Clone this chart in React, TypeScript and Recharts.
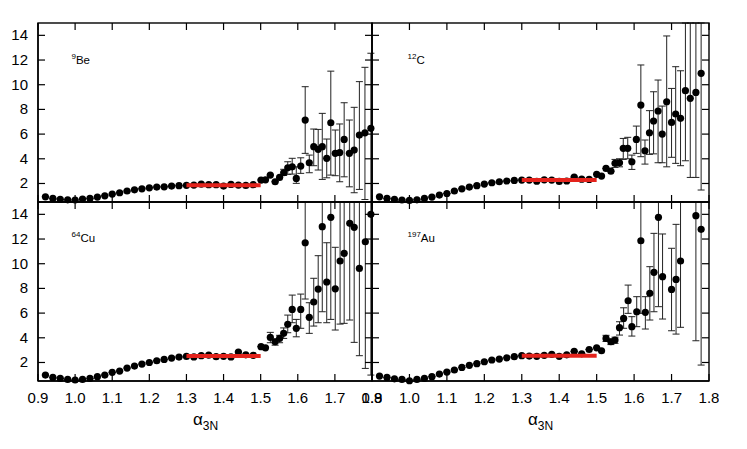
import React from 'react';
import { ScatterChart, Scatter, XAxis, YAxis, ErrorBar } from 'recharts';

const FONT = '"Liberation Sans", Arial, Helvetica, sans-serif';

// shared x positions below 1.5 (bins along the plateau)
const lowX = [
  0.92, 0.94, 0.96, 0.98, 1.0, 1.02, 1.04, 1.06, 1.08, 1.1, 1.12, 1.14, 1.16, 1.18, 1.2,
  1.22, 1.24, 1.26, 1.28, 1.3, 1.32, 1.34, 1.36, 1.38, 1.4, 1.42, 1.44, 1.46, 1.48,
];
const xTicks = [0.9, 1.0, 1.1, 1.2, 1.3, 1.4, 1.5, 1.6, 1.7, 1.8];
const yTicks = [2, 4, 6, 8, 10, 12, 14];
const xDomain = [0.9, 1.8];
const yDomain = [0.5, 15];
const plateau = [1.3, 1.5];

// 9Be
const beLowY = [
  0.92, 0.79, 0.71, 0.68, 0.66, 0.74, 0.79, 0.9, 1.0, 1.14, 1.25, 1.39, 1.49, 1.57, 1.65,
  1.71, 1.73, 1.79, 1.82, 1.85, 1.87, 1.95, 1.9, 1.9, 1.79, 1.92, 1.87, 1.84, 1.9,
];
const beTailX = [1.501, 1.513, 1.526, 1.539, 1.551, 1.562, 1.573, 1.585, 1.596, 1.608, 1.62, 1.631, 1.643, 1.655, 1.666, 1.678, 1.689, 1.701, 1.713, 1.725, 1.739, 1.752, 1.766, 1.781, 1.797];
const beTailY = [2.28, 2.3, 2.68, 2.14, 2.49, 2.87, 3.27, 3.35, 2.41, 3.41, 7.14, 3.68, 4.98, 4.77, 4.98, 4.04, 6.92, 4.44, 4.5, 5.57, 4.44, 4.71, 5.92, 6.1, 6.47];
const beTailLo = [2.28, 2.3, 2.68, 2.14, 2.49, 2.65, 2.74, 2.76, 2.01, 2.82, 4.44, 2.87, 3.44, 3.09, 2.33, 2.46, 2.68, 2.63, 2.14, 2.54, 1.73, 1.25, 1.52, 0.7, 0.5];
const beTailHi = [2.28, 2.3, 2.68, 2.14, 2.49, 3.15, 3.76, 4.04, 3.35, 4.08, 9.84, 4.3, 6.41, 6.38, 7.68, 5.6, 11.1, 6.33, 6.82, 8.54, 7.14, 8.17, 10.25, 11.41, 12.55];
const beFit = 1.86;

// 12C
const cLowY = [
  0.92, 0.79, 0.71, 0.66, 0.63, 0.68, 0.79, 0.9, 1.06, 1.19, 1.39, 1.57, 1.71, 1.82, 1.95,
  2.06, 2.14, 2.2, 2.25, 2.28, 2.28, 2.18, 2.3, 2.28, 2.17, 2.2, 2.52, 2.35, 2.33,
];
const cTailX = [1.5, 1.513, 1.525, 1.538, 1.549, 1.561, 1.571, 1.583, 1.594, 1.606, 1.618, 1.629, 1.641, 1.652, 1.664, 1.675, 1.687, 1.7, 1.711, 1.724, 1.737, 1.75, 1.765, 1.779];
const cTailY = [2.74, 2.6, 3.22, 3.0, 3.63, 3.68, 4.85, 4.85, 3.76, 5.57, 8.35, 4.65, 6.11, 7.06, 7.87, 6.0, 8.62, 6.95, 7.63, 7.28, 9.52, 8.9, 9.38, 10.92];
const cTailLo = [2.74, 2.6, 3.22, 3.0, 3.3, 3.35, 3.95, 4.0, 3.14, 4.44, 4.17, 3.57, 4.36, 4.4, 3.68, 3.68, 3.35, 4.12, 3.63, 3.44, 3.84, 2.49, 2.49, 1.47];
const cTailHi = [2.74, 2.6, 3.22, 3.0, 3.95, 4.0, 5.65, 5.74, 4.3, 6.65, 11.6, 5.52, 7.9, 9.43, 10.38, 8.27, 13.95, 9.7, 11.46, 11.13, 15, 15, 15, 15];
const cFit = 2.28;

// 64Cu
const cuLowY = [
  0.98, 0.79, 0.71, 0.63, 0.58, 0.63, 0.71, 0.85, 0.98, 1.2, 1.3, 1.55, 1.71, 1.87, 2.0,
  2.14, 2.25, 2.36, 2.44, 2.49, 2.45, 2.55, 2.6, 2.47, 2.5, 2.45, 2.85, 2.62, 2.58,
];
const cuTailX = [1.501, 1.513, 1.526, 1.539, 1.551, 1.562, 1.573, 1.585, 1.596, 1.608, 1.62, 1.631, 1.643, 1.655, 1.666, 1.678, 1.689, 1.701, 1.714, 1.725, 1.74, 1.752, 1.766, 1.782, 1.797];
const cuTailY = [3.28, 3.19, 4.03, 3.68, 3.95, 4.36, 5.09, 6.3, 4.77, 6.3, 11.7, 5.66, 6.9, 7.95, 13.0, 8.52, 13.76, 7.97, 10.22, 10.84, 13.27, 12.95, 9.62, 11.78, 14.0];
const cuTailLo = [3.28, 3.19, 3.6, 3.4, 3.6, 3.95, 4.41, 5.22, 4.08, 4.77, 7.14, 4.36, 4.95, 5.22, 6.11, 5.22, 5.49, 4.63, 5.11, 5.17, 5.44, 3.63, 2.55, 1.52, 0.98];
const cuTailHi = [3.28, 3.19, 4.44, 3.9, 4.2, 4.8, 5.84, 7.46, 5.49, 7.54, 15, 6.84, 8.82, 10.65, 15, 11.7, 15, 11.33, 15, 15, 15, 15, 15, 15, 15];
const cuFit = 2.52;

// 197Au
const auLowY = [
  0.9, 0.79, 0.68, 0.63, 0.52, 0.63, 0.71, 0.85, 1.06, 1.22, 1.39, 1.6, 1.77, 1.9, 2.06,
  2.2, 2.28, 2.38, 2.47, 2.55, 2.52, 2.5, 2.58, 2.66, 2.5, 2.62, 2.9, 2.7, 3.05,
];
const auTailX = [1.5, 1.513, 1.525, 1.538, 1.549, 1.561, 1.572, 1.584, 1.594, 1.607, 1.618, 1.63, 1.642, 1.653, 1.665, 1.676, 1.7, 1.712, 1.724, 1.765, 1.779];
const auTailY = [3.19, 2.95, 3.95, 3.68, 3.82, 4.82, 5.57, 7.0, 4.9, 6.11, 11.86, 6.06, 7.6, 9.3, 13.76, 8.95, 7.92, 8.73, 10.22, 13.89, 12.79];
const auTailLo = [3.19, 2.95, 3.7, 3.45, 3.55, 4.22, 4.77, 5.98, 4.14, 4.9, 5.98, 4.71, 5.44, 6.11, 6.52, 5.52, 4.57, 4.3, 4.85, 3.76, 1.79];
const auTailHi = [3.19, 2.95, 4.2, 3.9, 4.05, 5.3, 6.43, 8.27, 5.71, 7.33, 15, 7.33, 9.76, 12.46, 15, 12.41, 11.25, 13.19, 15, 15, 15];
const auFit = 2.55;

const makeRows = (lowY: number[], tx: number[], ty: number[], lo: number[], hi: number[]) => [
  ...lowX.map((x, i) => ({ x, y: lowY[i], err: [0, 0] })),
  ...tx.map((x, i) => ({ x, y: ty[i], err: [ty[i] - lo[i], hi[i] - ty[i]] })),
];
const fitRows = (level: number) => plateau.map((x) => ({ x, y: level }));

// inward tick marks on all four edges, placed through the chart scales
const topTickRows = xTicks.map((x) => ({ x, y: yDomain[1] }));
const bottomTickRows = xTicks.map((x) => ({ x, y: yDomain[0] }));
const leftTickRows = yTicks.map((y) => ({ x: xDomain[0], y }));
const rightTickRows = yTicks.map((y) => ({ x: xDomain[1], y }));

const PLOT_H = 179;
const TICK = 7;
const INK = '#000';

const XLabel = (p: any) =>
  p.showLabel ? (
    <text x={p.x} y={p.y + 22} textAnchor="middle" fontSize={15} fontFamily={FONT} fill={INK}>
      {Number(p.payload.value).toFixed(1)}
    </text>
  ) : <g />;
const YLabel = (p: any) =>
  p.showLabel ? (
    <text x={p.x - 10} y={p.y + 5} textAnchor="end" fontSize={15} fontFamily={FONT} fill={INK}>
      {p.payload.value}
    </text>
  ) : <g />;

const tickShape = (dx: number, dy: number) => (p: any) => (
  <line x1={p.cx} y1={p.cy} x2={p.cx + dx} y2={p.cy + dy} stroke={INK} strokeWidth={1.2} />
);
const TopTick = tickShape(0, TICK);
const BottomTick = tickShape(0, -TICK);
const LeftTick = tickShape(TICK, 0);
const RightTick = tickShape(-TICK, 0);

const Dot = (p: any) => <circle cx={p.cx} cy={p.cy} r={3.6} fill={INK} />;
const NoDot = () => <g />;

const axisLine = { stroke: INK, strokeWidth: 1.4 };
const ax = { xAxisId: 'b', yAxisId: 'l', isAnimationActive: false };

const panels = [
  { key: 'be', left: 38, top: 23, width: 334, showX: false, showY: true },
  { key: 'c', left: 372, top: 23, width: 337, showX: false, showY: false },
  { key: 'cu', left: 38, top: 202, width: 334, showX: true, showY: true },
  { key: 'au', left: 372, top: 202, width: 337, showX: true, showY: false },
];

const Panel = ({ rows, fit, left, top, width, showX, showY }: any) => (
  <div style={{ position: 'absolute', left: left - 40, top: top - 10 }}>
    <ScatterChart width={width + 50} height={PLOT_H + 40} margin={{ top: 10, right: 10, bottom: 0, left: 0 }}>
      <XAxis xAxisId="b" type="number" dataKey="x" domain={xDomain} ticks={xTicks} interval={0}
        height={30} tickSize={0} tickMargin={0} axisLine={axisLine} tickLine={false}
        tick={(p: any) => <XLabel {...p} showLabel={showX} />} />
      <YAxis yAxisId="l" type="number" dataKey="y" domain={yDomain} ticks={yTicks} interval={0}
        width={40} tickSize={0} tickMargin={0} axisLine={axisLine} tickLine={false}
        tick={(p: any) => <YLabel {...p} showLabel={showY} />} />
      <Scatter {...ax} data={rows} shape={Dot}>
        <ErrorBar dataKey="err" direction="y" width={3.5} stroke="#222" strokeWidth={1} isAnimationActive={false} />
      </Scatter>
      <Scatter {...ax} data={topTickRows} shape={TopTick} />
      <Scatter {...ax} data={bottomTickRows} shape={BottomTick} />
      <Scatter {...ax} data={leftTickRows} shape={LeftTick} />
      <Scatter {...ax} data={rightTickRows} shape={RightTick} />
      <Scatter {...ax} data={fitRows(fit)} shape={NoDot} line={{ stroke: '#e4231c', strokeWidth: 4 }} />
    </ScatterChart>
  </div>
);

export default function App() {
  return (
    <div style={{ position: 'absolute', left: 0, top: 0, width: 747, height: 449, background: '#fff', fontFamily: FONT }}>
      <Panel {...panels[0]} rows={makeRows(beLowY, beTailX, beTailY, beTailLo, beTailHi)} fit={beFit} />
      <Panel {...panels[1]} rows={makeRows(cLowY, cTailX, cTailY, cTailLo, cTailHi)} fit={cFit} />
      <Panel {...panels[2]} rows={makeRows(cuLowY, cuTailX, cuTailY, cuTailLo, cuTailHi)} fit={cuFit} />
      <Panel {...panels[3]} rows={makeRows(auLowY, auTailX, auTailY, auTailLo, auTailHi)} fit={auFit} />
      <svg width={747} height={449} style={{ position: 'absolute', left: 0, top: 0, pointerEvents: 'none' }}>
        {panels.map((p) => (
          <rect key={p.key} x={p.left} y={p.top} width={p.width} height={PLOT_H} fill="none" stroke={INK} strokeWidth={1.4} />
        ))}
        <g fontFamily={FONT} fill={INK}>
          <text x={71.5} y={64} fontSize={11.5}><tspan fontSize={8} dy={-5}>9</tspan><tspan dy={5}>Be</tspan></text>
          <text x={407.5} y={64} fontSize={11.5}><tspan fontSize={8} dy={-5}>12</tspan><tspan dy={5}>C</tspan></text>
          <text x={71.5} y={242} fontSize={11.5}><tspan fontSize={8} dy={-5}>64</tspan><tspan dy={5}>Cu</tspan></text>
          <text x={407.5} y={242} fontSize={11.5}><tspan fontSize={8} dy={-5}>197</tspan><tspan dy={5}>Au</tspan></text>
          <text x={193} y={425} fontSize={17}>α<tspan fontSize={12} dy={5}>3N</tspan></text>
          <text x={528} y={425} fontSize={17}>α<tspan fontSize={12} dy={5}>3N</tspan></text>
        </g>
      </svg>
    </div>
  );
}
